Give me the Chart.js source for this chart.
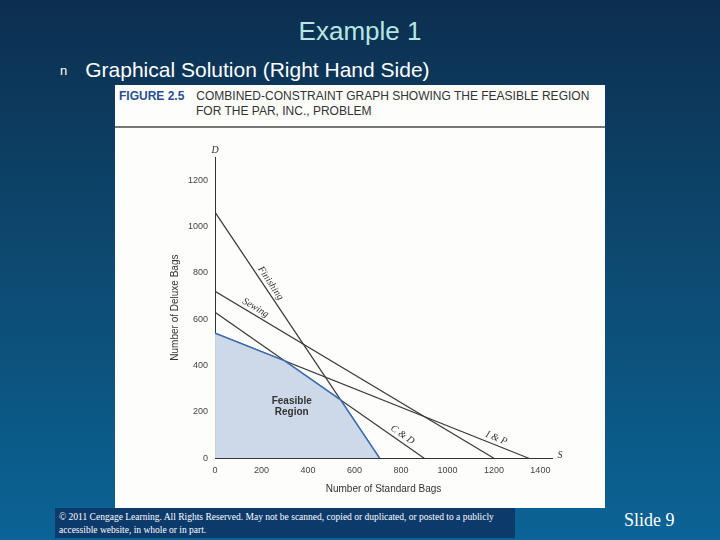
<!DOCTYPE html>
<html><head><meta charset="utf-8">
<script src="https://cdn.jsdelivr.net/npm/chart.js@4"></script>
<style>
body{margin:0;width:720px;height:540px;overflow:hidden;position:relative;
 background:linear-gradient(180deg,#0c2f4f 0%,#0d4a72 50%,#0a6496 100%);font-family:"Liberation Sans",Arial,sans-serif}
#title{position:absolute;top:16px;width:100%;text-align:center;color:#b8e6e0;font-size:26px}
#bullet{position:absolute;top:58px;left:60px;color:#fff;font-size:21px}
#bullet span{font-size:13px;margin-right:18px;vertical-align:2px}
#panel{position:absolute;left:115px;top:85px;width:490px;height:423px;background:#fdfdfb}
#fig{position:absolute;left:4px;top:4px;font-size:12px;color:#333;font-family:"Liberation Sans",sans-serif;line-height:15px}
#fig b{color:#2a4f8f;margin-right:12px}
#rule{position:absolute;left:0;top:41px;width:490px;border-top:2px solid #777}
#cv{position:absolute;left:0;top:46px}
#copy{position:absolute;left:55px;top:508px;width:460px;height:30px;background:#0b3a6b;color:#fff;font-family:"Liberation Serif",serif;font-size:9.5px;padding:3px 4px;box-sizing:border-box;line-height:13px}
#slide{position:absolute;left:624px;top:510px;color:#fff;font-family:"Liberation Serif",serif;font-size:18px}
</style></head><body>
<div id="title">Example 1</div>
<div id="bullet"><span>n</span>Graphical Solution (Right Hand Side)</div>
<div id="panel">
 <div id="fig"><b>FIGURE 2.5</b>COMBINED-CONSTRAINT GRAPH SHOWING THE FEASIBLE REGION<br><span style="margin-left:77px">FOR THE PAR, INC., PROBLEM</span></div>
 <div id="rule"></div>
 <canvas id="cv" width="490" height="377"></canvas>
</div>
<div id="copy">© 2011 Cengage Learning. All Rights Reserved. May not be scanned, copied or duplicated, or posted to a publicly accessible website, in whole or in part.</div>
<div id="slide">Slide 9</div>
<script>
// constraint lines: intercepts on S (x) and D (y) axes
const constraintNames = ["C & D", "Sewing", "Finishing", "I & P"];
const sIntercepts = [900, 1200, 708, 1350];
const dIntercepts = [630, 720, 1062, 540];
// label anchor (S value along each line)
const labelS = [790, 160, 215, 1200];
// feasible region vertices
const feasS = [0, 300, 540, 708];
const feasD = [540, 420, 252, 0];
const xTicks = [0, 200, 400, 600, 800, 1000, 1200, 1400];
const yTicks = [0, 200, 400, 600, 800, 1000, 1200];

const datasets = [{
  data: feasS.map((s, i) => ({x: s, y: feasD[i]})),
  borderColor: "#3b6fb5", borderWidth: 1.5, backgroundColor: "#cdd9e8",
  fill: "origin", pointRadius: 0, tension: 0
}];
constraintNames.forEach((n, i) => datasets.push({
  data: [{x: 0, y: dIntercepts[i]}, {x: sIntercepts[i], y: 0}],
  borderColor: "#3a3a3a", borderWidth: 1.2, pointRadius: 0, fill: false
}));

const labels = {
  id: "labels",
  afterDatasetsDraw(c) {
    const {ctx, scales: {x, y}} = c;
    ctx.save();
    ctx.fillStyle = "#333";
    ctx.font = "italic 10px 'Liberation Serif', serif";
    constraintNames.forEach((n, i) => {
      const s = labelS[i], d = dIntercepts[i] * (1 - s / sIntercepts[i]);
      const x0 = x.getPixelForValue(0), y0 = y.getPixelForValue(dIntercepts[i]);
      const x1 = x.getPixelForValue(sIntercepts[i]), y1 = y.getPixelForValue(0);
      const a = Math.atan2(y1 - y0, x1 - x0);
      ctx.save();
      ctx.translate(x.getPixelForValue(s), y.getPixelForValue(d));
      ctx.rotate(a);
      ctx.textAlign = "center";
      ctx.fillText(n, 0, -4);
      ctx.restore();
    });
    ctx.font = "bold 10px 'Liberation Sans', sans-serif";
    ctx.textAlign = "center";
    ctx.fillText("Feasible", x.getPixelForValue(330), y.getPixelForValue(235));
    ctx.fillText("Region", x.getPixelForValue(330), y.getPixelForValue(185));
    ctx.font = "italic 10px 'Liberation Serif', serif";
    ctx.fillText("D", x.getPixelForValue(0), y.top - 4);
    ctx.fillText("S", x.right + 8, y.getPixelForValue(0));
    ctx.restore();
  }
};

new Chart(document.getElementById("cv"), {
  type: "line",
  data: {datasets},
  options: {
    responsive: false, animation: false,
    layout: {padding: {left: 50, right: 53, top: 26, bottom: 9}},
    plugins: {legend: {display: false}, tooltip: {enabled: false}},
    scales: {
      x: {type: "linear", min: 0, max: 1450,
        afterBuildTicks: a => { a.ticks = xTicks.map(v => ({value: v})); },
        grid: {display: false, drawTicks: true, tickLength: 4},
        border: {color: "#333"},
        ticks: {color: "#444", font: {size: 9}, maxRotation: 0, callback: v => String(v)},
        title: {display: true, text: "Number of Standard Bags", color: "#333", font: {size: 10}}},
      y: {type: "linear", min: 0, max: 1300,
        afterBuildTicks: a => { a.ticks = yTicks.map(v => ({value: v})); },
        grid: {display: false, tickLength: 4},
        border: {color: "#333"},
        ticks: {color: "#444", font: {size: 9}, callback: v => String(v)},
        title: {display: true, text: "Number of Deluxe Bags", color: "#333", font: {size: 10}}}
    }
  },
  plugins: [labels]
});
</script>
</body></html>
